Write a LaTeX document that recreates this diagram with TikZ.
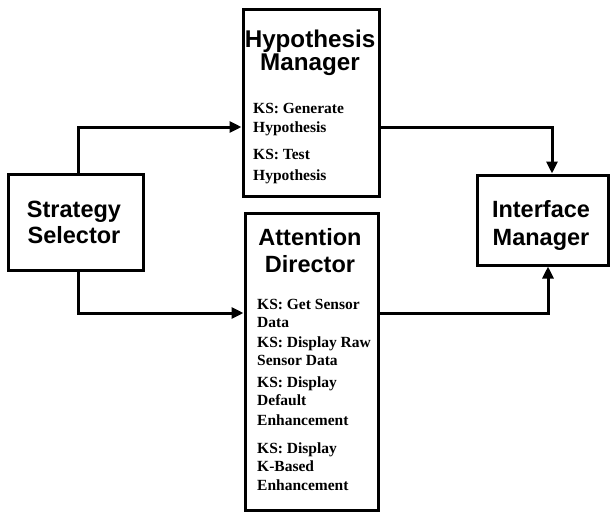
\documentclass[tikz,border=0pt]{standalone}
\usepackage{fontspec}
\setmainfont{Liberation Serif}
\newfontfamily\headfont{Liberation Sans}
\usetikzlibrary{arrows.meta}
\begin{document}
\begin{tikzpicture}[x=1pt,y=-1pt,
  box/.style={draw, line width=3pt, minimum width=#1, inner sep=0pt},
  head/.style={font=\headfont\bfseries\fontsize{23.5}{26}\selectfont, anchor=base, inner sep=0pt},
  ks/.style={font=\bfseries\fontsize{15.5}{18}\selectfont, anchor=base west, inner sep=0pt},
  arr/.style={line width=3pt, -{Triangle[length=12pt,width=11pt]}}]
\useasboundingbox (0,0) rectangle (610,512);
% boxes
\node[box=135pt, minimum height=96pt] (ss) at (75.5,222) {};
\node[box=136pt, minimum height=187pt] (hm) at (311,102.5) {};
\node[box=133pt, minimum height=297pt] (ad) at (311.5,361.5) {};
\node[box=131pt, minimum height=90pt] (im) at (542.5,220) {};
% headings
\node[head] (ss1) at (74,217) {Strategy};
\node[head] (ss2) at (74,243) {Selector};
\node[head, font=\headfont\bfseries\fontsize{24.2}{26}\selectfont] (hm1) at (310,47) {Hypothesis};
\node[head, font=\headfont\bfseries\fontsize{24.2}{26}\selectfont] (hm2) at (310,70) {Manager};
\node[head] (ad1) at (310,245) {Attention};
\node[head] (ad2) at (310,272) {Director};
\node[head] (im1) at (541,217) {Interface};
\node[head] (im2) at (541,245) {Manager};
% KS lines, hypothesis manager
\node[ks] (h1) at (253,113) {KS: Generate};
\node[ks] (h2) at (253,132) {Hypothesis};
\node[ks] (h3) at (253,159) {KS: Test};
\node[ks] (h4) at (253,180) {Hypothesis};
% KS lines, attention director
\node[ks] (a1) at (257,309) {KS: Get Sensor};
\node[ks] (a2) at (257,327) {Data};
\node[ks] (a3) at (257,347) {KS: Display Raw};
\node[ks] (a4) at (257,365) {Sensor Data};
\node[ks] (a5) at (257,387) {KS: Display};
\node[ks] (a6) at (257,405) {Default};
\node[ks] (a7) at (257,425) {Enhancement};
\node[ks] (a8) at (257,453) {KS: Display};
\node[ks] (a9) at (257,471) {K-Based};
\node[ks] (a10) at (257,490) {Enhancement};
% connectors
\draw[arr] ([xshift=2.5pt]ss.north) |- ([yshift=-24.5pt]hm.west);
\draw[arr] ([xshift=2.5pt]ss.south) |- ([yshift=48.5pt]ad.west);
\draw[arr] ([yshift=-24.5pt]hm.east) -| ([xshift=9.5pt]im.north);
\draw[arr] ([yshift=48.5pt]ad.east) -| ([xshift=5.5pt]im.south);
\end{tikzpicture}
\end{document}
